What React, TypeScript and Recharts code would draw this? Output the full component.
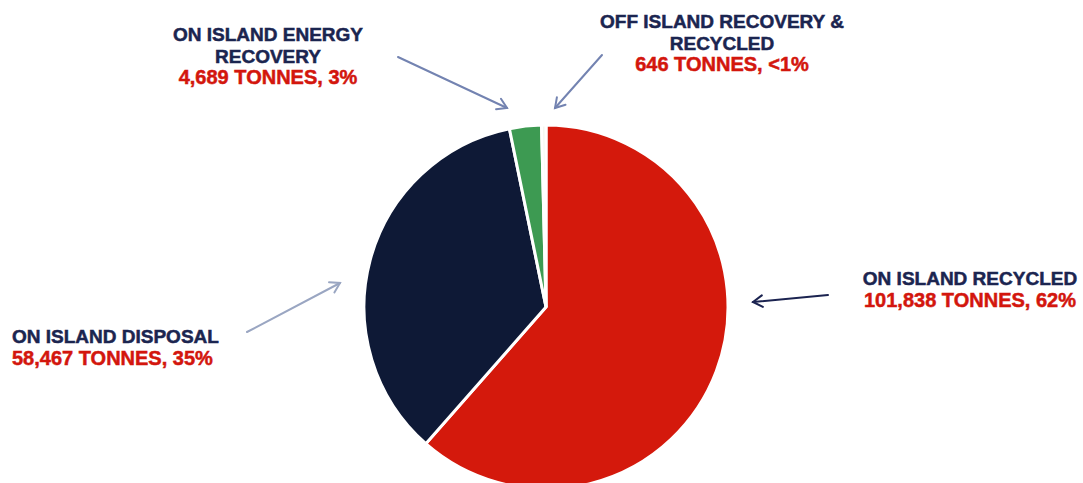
import { PieChart, Pie, Cell } from 'recharts'

const categories = [
  'On Island Recycled',
  'On Island Disposal',
  'On Island Energy Recovery',
  'Off Island Recovery & Recycled',
]
const tonnes = [101838, 58467, 4689, 646]
const shares = ['62%', '35%', '3%', '<1%']
const colors = ['#d4190c', '#0e1936', '#3d9a52', '#f3f6ee']

const NAVY = '#1b2550'
const RED = '#d3160d'
const FONT = '"Liberation Sans", Arial, sans-serif'

const data = categories.map((name, i) => ({ name, value: tonnes[i] }))

const fmt = (i: number) => `${tonnes[i].toLocaleString('en-US')} TONNES, ${shares[i]}`

// label blocks: title lines + value line
const labelBlocks = [
  { idx: 0, x: 970, y: 285, anchor: 'middle', lines: ['ON ISLAND RECYCLED'] },
  { idx: 1, x: 12, y: 343, anchor: 'start', lines: ['ON ISLAND DISPOSAL'] },
  { idx: 2, x: 268, y: 41, anchor: 'middle', lines: ['ON ISLAND ENERGY', 'RECOVERY'] },
  { idx: 3, x: 722, y: 28, anchor: 'middle', lines: ['OFF ISLAND RECOVERY &', 'RECYCLED'] },
]

const arrows = [
  { x1: 828, y1: 295, x2: 753, y2: 302, color: '#1b2350', w: 2 },
  { x1: 247, y1: 332, x2: 340, y2: 283, color: '#9aa6c2', w: 2 },
  { x1: 398, y1: 57, x2: 507, y2: 108, color: '#7383b1', w: 2 },
  { x1: 602, y1: 55, x2: 555, y2: 108, color: '#7383b1', w: 2 },
]

function Arrow({ x1, y1, x2, y2, color, w }: any) {
  const ang = Math.atan2(y2 - y1, x2 - x1)
  const len = 11
  const spread = 0.55
  const ax = x2 - len * Math.cos(ang - spread)
  const ay = y2 - len * Math.sin(ang - spread)
  const bx = x2 - len * Math.cos(ang + spread)
  const by = y2 - len * Math.sin(ang + spread)
  return (
    <g stroke={color} strokeWidth={w} fill="none" strokeLinecap="round">
      <line x1={x1} y1={y1} x2={x2} y2={y2} />
      <polyline points={`${ax},${ay} ${x2},${y2} ${bx},${by}`} />
    </g>
  )
}

export default function App() {
  return (
    <div style={{ position: 'fixed', left: 0, top: 0, width: 1083, height: 483, background: '#fff' }}>
      <PieChart width={1083} height={483} margin={{ top: 0, right: 0, bottom: 0, left: 0 }}>
        <Pie
          data={data}
          dataKey="value"
          nameKey="name"
          cx={546}
          cy={307}
          outerRadius={182}
          startAngle={90}
          endAngle={-270}
          stroke="#ffffff"
          strokeWidth={3}
          isAnimationActive={false}
        >
          {data.map((d, i) => (
            <Cell key={d.name} fill={colors[i]} />
          ))}
        </Pie>
      </PieChart>
      <svg
        width={1083}
        height={483}
        style={{ position: 'absolute', left: 0, top: 0, pointerEvents: 'none' }}
      >
        {arrows.map((a, i) => (
          <Arrow key={i} {...a} />
        ))}
        {labelBlocks.map((b) => (
          <text
            key={b.idx}
            x={b.x}
            y={b.y}
            textAnchor={b.anchor as any}
            fontFamily={FONT}
            fontWeight={700}
            fontSize={19}
            strokeWidth={0.5}
          >
            {b.lines.map((l, j) => (
              <tspan key={j} x={b.x} dy={j === 0 ? 0 : 21.5} fill={NAVY} stroke={NAVY}>
                {l}
              </tspan>
            ))}
            <tspan x={b.x} dy={21.5} fill={RED} stroke={RED} fontSize={20}>
              {fmt(b.idx)}
            </tspan>
          </text>
        ))}
      </svg>
    </div>
  )
}
